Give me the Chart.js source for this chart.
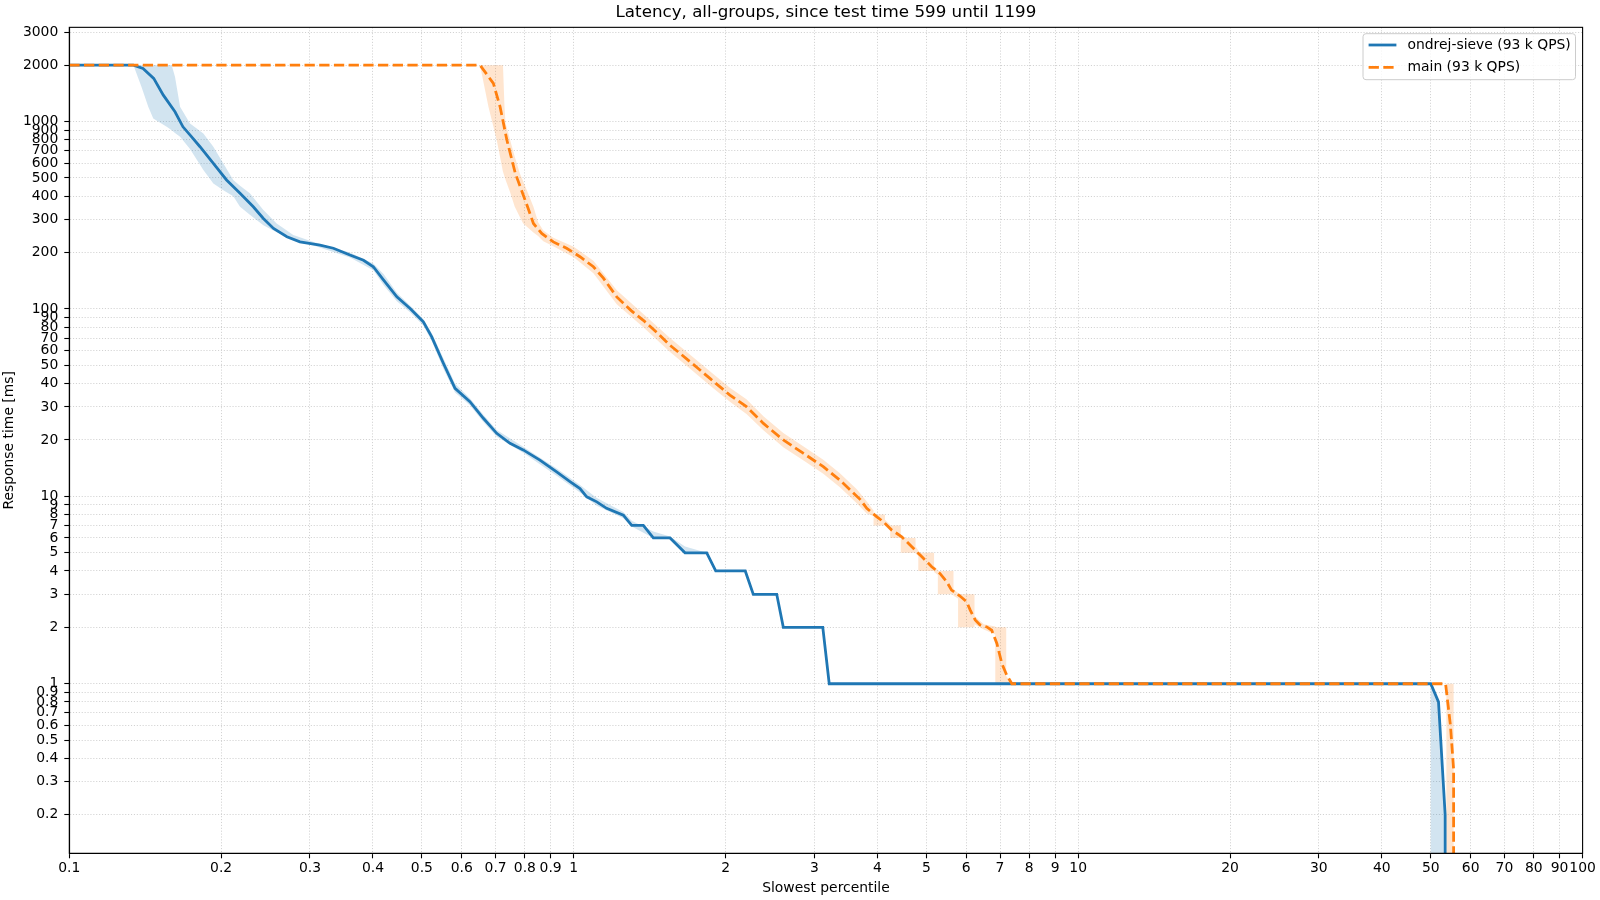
<!DOCTYPE html>
<html>
<head>
<meta charset="utf-8">
<script src="https://cdn.jsdelivr.net/npm/chart.js@4.4.1/dist/chart.umd.min.js"></script>
<style>
  html, body { margin: 0; padding: 0; background: #ffffff; }
  #c { position: absolute; left: 0; top: 0; }
</style>
</head>
<body>
<canvas id="c" width="1600" height="900"></canvas>
<script>
// ---------------- data ----------------
const chartTitle = 'Latency, all-groups, since test time 599 until 1199';
const xTitle = 'Slowest percentile';
const yTitle = 'Response time [ms]';
const seriesNames = ['ondrej-sieve (93 k QPS)', 'main (93 k QPS)'];

const xTicks = [0.1, 0.2, 0.3, 0.4, 0.5, 0.6, 0.7, 0.8, 0.9, 1, 2, 3, 4, 5, 6, 7, 8, 9, 10, 20, 30, 40, 50, 60, 70, 80, 90, 100];
const yTicks = [0.2, 0.3, 0.4, 0.5, 0.6, 0.7, 0.8, 0.9, 1, 2, 3, 4, 5, 6, 7, 8, 9, 10, 20, 30, 40, 50, 60, 70, 80, 90, 100, 200, 300, 400, 500, 600, 700, 800, 900, 1000, 2000, 3000];

// ondrej-sieve (blue, solid)
const blueX = [0.1, 0.134, 0.140, 0.147, 0.1536, 0.162, 0.168, 0.1748, 0.1816, 0.193, 0.205, 0.218, 0.2316, 0.2425, 0.254, 0.27, 0.2866, 0.314, 0.3338, 0.36, 0.383, 0.4006, 0.4195, 0.446, 0.4738, 0.5033, 0.523, 0.5515, 0.5817, 0.6226, 0.662, 0.7036, 0.7476, 0.794, 0.857, 0.925, 0.983, 1.029, 1.061, 1.111, 1.162, 1.254, 1.303, 1.374, 1.438, 1.552, 1.662, 1.835, 1.912, 2.188, 2.27, 2.526, 2.603, 3.117, 3.21, 50.0, 51.8, 53.4, 53.4];
const blueY = [2000, 2000, 1923, 1701, 1384, 1128, 938, 829, 734, 598, 488, 414, 351, 304, 269, 243, 228, 219, 211, 194, 182, 168, 143, 116, 100.7, 85.5, 71, 51.3, 37.7, 32, 26.1, 21.7, 19.2, 17.7, 15.6, 13.5, 12.0, 11.0, 9.95, 9.35, 8.63, 7.94, 7.0, 7.0, 6.0, 6.0, 5.0, 5.0, 4.0, 4.0, 3.0, 3.0, 2.0, 2.0, 1.0, 1.0, 0.8, 0.2, 0.05];
const blueBandX  = [0.134, 0.139, 0.1434, 0.1467, 0.156, 0.1596, 0.162, 0.1658, 0.1735, 0.1844, 0.193, 0.202, 0.2114, 0.218, 0.228, 0.2425, 0.2577, 0.278, 0.305, 0.36, 0.4006, 0.42, 0.446, 0.4738, 0.5033, 0.523, 0.5515, 0.5817, 0.6226, 0.662, 0.7036, 0.794, 0.925, 1.029, 1.111, 1.254, 1.303, 1.438, 1.552, 1.662, 1.835, 3.21, 50, 50, 51.8, 53.4, 53.4];
const blueBandLo = [2000, 1535, 1199, 1040, 938, 900, 870, 829, 715, 551, 468, 430, 400, 351, 318, 280, 257, 235, 218, 188, 161, 134, 110, 96, 81.5, 67.5, 48, 35.8, 30.6, 24.9, 20.8, 17.1, 12.9, 10.5, 8.9, 7.65, 6.9, 6, 5.9, 5, 5, 1, 1, 0.05, 0.05, 0.05, 0.05];
const blueBandHi = [2000, 2000, 2000, 2000, 2000, 2000, 1734, 1199, 977, 865, 734, 598, 488, 455, 414, 337, 286, 248, 228, 200, 175, 153, 122, 104.5, 88.5, 74.5, 54.5, 40, 33.4, 27.3, 22.6, 18.4, 14.1, 11.5, 9.8, 8.25, 7.4, 6.5, 6.1, 5.4, 5, 1, 1, 1, 0.8, 0.2, 0.05];

// main (orange, dashed)
const orangeX = [0.1, 0.652, 0.693, 0.7145, 0.737, 0.766, 0.81, 0.832, 0.864, 0.911, 0.968, 1.029, 1.094, 1.145, 1.217, 1.30, 1.374, 1.461, 1.552, 1.701, 1.862, 2.04, 2.2, 2.377, 2.603, 2.85, 3.124, 3.37, 3.695, 3.81, 3.99, 4.11, 4.27, 4.47, 4.68, 4.90, 5.125, 5.32, 5.49, 5.61, 5.83, 6.01, 6.11, 6.25, 6.39, 6.59, 6.74, 6.90, 7.06, 7.22, 7.39, 53.5, 54.7, 55.5, 55.5];
const orangeY = [2000, 2000, 1600, 1199, 797, 529, 351, 286, 253, 228, 211, 190, 168, 146, 116, 98, 87, 75, 64, 52.3, 42.6, 34.7, 30.1, 24.5, 20.0, 17.0, 14.4, 12.2, 9.64, 8.63, 7.78, 7.32, 6.61, 6.09, 5.38, 4.76, 4.21, 3.88, 3.50, 3.16, 2.94, 2.74, 2.47, 2.19, 2.06, 2.01, 1.93, 1.64, 1.28, 1.11, 1.0, 1.0, 0.6, 0.35, 0.05];
const orangeBandX  = [0.652, 0.6775, 0.7036, 0.724, 0.729, 0.7325, 0.748, 0.764, 0.782, 0.794, 0.832, 0.850, 0.8704, 0.911, 1.0, 1.094, 1.217, 1.374, 1.552, 1.701, 1.862, 2.04, 2.2, 2.377, 2.603, 2.85, 3.124, 3.37, 3.64, 3.81, 3.93, 3.93, 4.14, 4.14, 4.24, 4.24, 4.45, 4.45, 4.76, 4.76, 4.82, 4.82, 5.18, 5.18, 5.27, 5.27, 5.66, 5.66, 5.78, 5.78, 6.23, 6.23, 6.5, 6.85, 6.85, 7.2, 7.2, 7.4, 53.7, 53.7, 55.5, 55.5];
const orangeBandLo = [2000, 1199, 797, 540, 510, 490, 420, 351, 310, 286, 256, 245, 230, 216, 189, 155, 106, 80, 59, 48, 39, 32, 27.5, 22.5, 18.3, 15.6, 13.2, 11.2, 9.2, 8.1, 7.85, 7, 7, 6.95, 6.55, 6, 6, 5, 5, 4.95, 4.8, 4, 4, 3.95, 3.8, 3, 3, 2.95, 2.85, 2, 2, 2.08, 1.95, 1.83, 1, 1, 1, 1, 1, 0.05, 0.05, 0.05];
const orangeBandHi = [2000, 2000, 2000, 2000, 1199, 982, 797, 650, 529, 480, 351, 290, 262, 240, 215, 181, 126, 94, 70, 57, 46.5, 38, 33, 26.8, 21.8, 18.5, 15.7, 13.3, 10.9, 9.4, 8.4, 8, 8, 7.5, 7.05, 7, 7, 6, 6, 5.4, 5.15, 5, 5, 4.25, 4.05, 4, 4, 3.2, 3.05, 3, 3, 2.3, 2.08, 2.02, 2, 2, 1.1, 1, 1, 1, 1, 0.05];

// ---------------- helpers ----------------
const pts = (X, Y) => X.map((x, i) => ({x: x, y: Y[i]}));
const bandPolygon = (X, lo, hi) => pts(X, hi).concat(pts(X, lo).reverse());

const BLUE = '#1f77b4';
const ORANGE = '#ff7f0e';
const FONT = 'DejaVu Sans';
const LW = 2.78;
const DASH = [10.3, 4.4];

Chart.defaults.font.family = FONT;
Chart.defaults.color = '#000000';

const framePlugin = {
  id: 'frame',
  afterDatasetsDraw(chart) {
    const a = chart.chartArea, ctx = chart.ctx;
    ctx.save();
    ctx.strokeStyle = '#000';
    ctx.lineWidth = 1.1;
    ctx.strokeRect(a.left, a.top, a.right - a.left, a.bottom - a.top);
    ctx.restore();
  }
};

const legendPlugin = {
  id: 'mplLegend',
  afterDraw(chart) {
    const ctx = chart.ctx;
    const bx = 1363, by = 33.7, bw = 212.5, bh = 46;
    ctx.save();
    ctx.beginPath();
    if (ctx.roundRect) ctx.roundRect(bx, by, bw, bh, 3); else ctx.rect(bx, by, bw, bh);
    ctx.fillStyle = 'rgba(255,255,255,0.8)';
    ctx.fill();
    ctx.strokeStyle = '#cccccc';
    ctx.lineWidth = 1;
    ctx.stroke();
    const rows = [
      {label: seriesNames[0], color: BLUE, dash: [], y: 45},
      {label: seriesNames[1], color: ORANGE, dash: DASH, y: 67.3}
    ];
    ctx.font = '13.9px "' + FONT + '"';
    ctx.textBaseline = 'middle';
    ctx.textAlign = 'left';
    rows.forEach(r => {
      ctx.beginPath();
      ctx.setLineDash(r.dash);
      ctx.strokeStyle = r.color;
      ctx.lineWidth = LW;
      ctx.lineCap = 'butt';
      ctx.moveTo(1368.6, r.y);
      ctx.lineTo(1396.4, r.y);
      ctx.stroke();
      ctx.setLineDash([]);
      ctx.fillStyle = '#000';
      ctx.fillText(r.label, 1407.5, r.y);
    });
    ctx.restore();
  }
};

const gridCommon = {
  color: '#d2d2d2',
  lineWidth: 1,
  drawTicks: true,
  tickLength: 5,
  tickColor: '#000',
  tickWidth: 1.1
};
const borderCommon = { display: true, color: '#000', width: 1.1, dash: [1.1, 1.8] };

new Chart(document.getElementById('c'), {
  type: 'line',
  data: {
    datasets: [
      { label: seriesNames[1], data: pts(orangeX, orangeY), borderColor: ORANGE, borderWidth: LW, borderDash: DASH,
        pointRadius: 0, fill: false, tension: 0, clip: 0 },
      { label: seriesNames[0], data: pts(blueX, blueY), borderColor: BLUE, borderWidth: LW,
        pointRadius: 0, fill: false, tension: 0, clip: 0 },
      { label: 'main band', data: bandPolygon(orangeBandX, orangeBandLo, orangeBandHi), borderWidth: 0,
        backgroundColor: 'rgba(255,127,14,0.2)', pointRadius: 0, fill: 'shape', tension: 0, clip: 0 },
      { label: 'ondrej-sieve band', data: bandPolygon(blueBandX, blueBandLo, blueBandHi), borderWidth: 0,
        backgroundColor: 'rgba(31,119,180,0.2)', pointRadius: 0, fill: 'shape', tension: 0, clip: 0 }
    ]
  },
  options: {
    responsive: false,
    devicePixelRatio: 1,
    animation: false,
    events: [],
    layout: { padding: { left: 0, right: 17.4, top: 0, bottom: 0 } },
    plugins: {
      legend: { display: false },
      tooltip: { enabled: false },
      title: {
        display: true, text: chartTitle, fullSize: false, color: '#000',
        font: { family: FONT, size: 16.7, weight: 'normal', lineHeight: 1.2 },
        padding: { top: 2.5, bottom: 4.8 }
      }
    },
    scales: {
      x: {
        type: 'logarithmic', position: 'bottom', min: 0.1, max: 100,
        afterBuildTicks: s => { s.ticks = xTicks.map(v => ({ value: v })); },
        afterFit: s => { s.height = 46.7; },
        ticks: { autoSkip: false, maxRotation: 0, minRotation: 0, padding: 2, color: '#000',
                 font: { family: FONT, size: 13.9 }, callback: v => String(v) },
        grid: gridCommon,
        border: borderCommon,
        title: { display: true, text: xTitle, color: '#000', font: { family: FONT, size: 13.9 },
                 padding: { top: 0, bottom: 3.4 } }
      },
      y: {
        type: 'logarithmic', position: 'left', min: 0.1245, max: 3184,
        afterBuildTicks: s => { s.ticks = yTicks.map(v => ({ value: v })); },
        afterFit: s => { s.width = 69.3; },
        ticks: { autoSkip: false, padding: 6, color: '#000',
                 font: { family: FONT, size: 13.9 }, callback: v => String(v) },
        grid: gridCommon,
        border: borderCommon,
        title: { display: true, text: yTitle, color: '#000', font: { family: FONT, size: 13.9 },
                 padding: { top: 1, bottom: 0 } }
      }
    }
  },
  plugins: [framePlugin, legendPlugin]
});
</script>
</body>
</html>
